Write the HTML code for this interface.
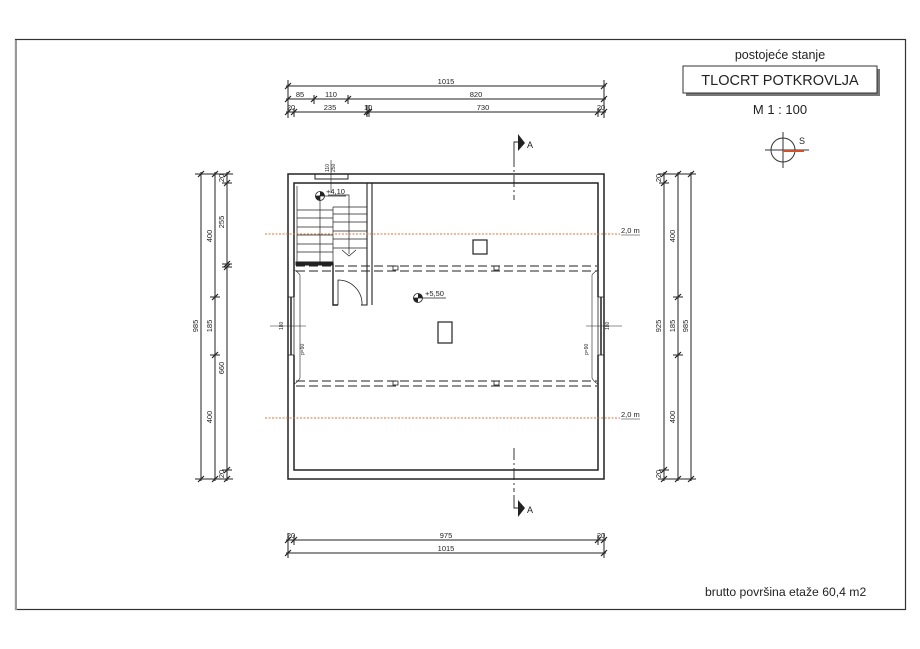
<!DOCTYPE html>
<html><head><meta charset="utf-8"><style>
html,body{margin:0;padding:0;background:#fff}
svg{display:block}
text{font-family:"Liberation Sans",sans-serif;fill:#222}
</style></head><body>
<svg width="920" height="649" viewBox="0 0 920 649" xmlns="http://www.w3.org/2000/svg">
<rect x="15.5" y="39.5" width="890" height="570" fill="none" stroke="#333" stroke-width="1.2"/>
<line x1="16" y1="40" x2="16" y2="610" stroke="#999" stroke-width="2"/>

<!-- title -->
<text x="780" y="59" font-size="12.5" text-anchor="middle">postojeće stanje</text>
<rect x="686" y="69" width="194" height="27" fill="#777"/>
<rect x="683" y="66" width="194" height="27" fill="#fff" stroke="#333" stroke-width="1"/>
<text x="780" y="85" font-size="14.5" text-anchor="middle">TLOCRT POTKROVLJA</text>
<text x="780" y="114" font-size="13" text-anchor="middle">M  1 : 100</text>
<circle cx="783" cy="150" r="12" fill="none" stroke="#333"/>
<line x1="765" y1="150" x2="809" y2="150" stroke="#333"/>
<line x1="783" y1="132" x2="783" y2="168" stroke="#333"/>
<line x1="783" y1="151" x2="804" y2="151" stroke="#d2512a" stroke-width="2"/>
<text x="799" y="144" font-size="9">S</text>

<g stroke="#222" stroke-width="1" fill="none">
<!-- top dims -->
<line x1="286" y1="86" x2="606" y2="86"/>
<line x1="286" y1="99" x2="606" y2="99"/>
<line x1="286" y1="112" x2="606" y2="112"/>
<line x1="288" y1="80" x2="288" y2="118"/><line x1="604" y1="80" x2="604" y2="118"/>
<line x1="314" y1="95" x2="314" y2="104"/><line x1="348" y1="95" x2="348" y2="104"/>
<line x1="294" y1="108" x2="294" y2="117"/><line x1="367" y1="105" x2="367" y2="117"/><line x1="369" y1="105" x2="369" y2="117"/><line x1="598" y1="108" x2="598" y2="117"/>
<!-- bottom dims -->
<line x1="286" y1="540" x2="606" y2="540"/>
<line x1="286" y1="553" x2="606" y2="553"/>
<line x1="288" y1="533" x2="288" y2="558"/><line x1="604" y1="533" x2="604" y2="558"/>
<line x1="294" y1="535" x2="294" y2="545"/><line x1="598" y1="535" x2="598" y2="545"/>
<!-- left dims -->
<line x1="201" y1="172" x2="201" y2="481"/>
<line x1="215" y1="172" x2="215" y2="481"/>
<line x1="227" y1="172" x2="227" y2="481"/>
<line x1="195" y1="174" x2="233" y2="174"/><line x1="195" y1="479" x2="233" y2="479"/>
<line x1="210" y1="297" x2="220" y2="297"/><line x1="210" y1="355" x2="220" y2="355"/>
<line x1="222" y1="183" x2="232" y2="183"/><line x1="222" y1="264" x2="232" y2="264"/><line x1="222" y1="267" x2="232" y2="267"/><line x1="222" y1="470" x2="232" y2="470"/>
<!-- right dims -->
<line x1="664" y1="172" x2="664" y2="481"/>
<line x1="678" y1="172" x2="678" y2="481"/>
<line x1="691" y1="172" x2="691" y2="481"/>
<line x1="658" y1="174" x2="696" y2="174"/><line x1="658" y1="479" x2="696" y2="479"/>
<line x1="659" y1="183" x2="669" y2="183"/><line x1="659" y1="470" x2="669" y2="470"/>
<line x1="673" y1="297" x2="683" y2="297"/><line x1="673" y1="355" x2="683" y2="355"/>
</g>
<!-- tick slashes -->
<g stroke="#222" stroke-width="1.2">
<path d="M285 89 L291 83 M601 89 L607 83 M311 102 L317 96 M345 102 L351 96 M285 102 L291 96 M601 102 L607 96 M285 115 L291 109 M291 115 L297 109 M364 115 L370 109 M366 115 L372 109 M595 115 L601 109 M601 115 L607 109"/>
<path d="M285 543 L291 537 M291 543 L297 537 M595 543 L601 537 M601 543 L607 537 M285 556 L291 550 M601 556 L607 550"/>
<path d="M198 177 L204 171 M212 177 L218 171 M224 177 L230 171 M198 482 L204 476 M212 482 L218 476 M224 482 L230 476 M212 300 L218 294 M212 358 L218 352 M224 186 L230 180 M224 267 L230 261 M224 270 L230 264 M224 473 L230 467"/>
<path d="M661 177 L667 171 M675 177 L681 171 M688 177 L694 171 M661 482 L667 476 M675 482 L681 476 M688 482 L694 476 M661 186 L667 180 M661 473 L667 467 M675 300 L681 294 M675 358 L681 352"/>
</g>
<g font-size="7.5" text-anchor="middle">
<text x="446" y="84">1015</text>
<text x="300" y="97">85</text><text x="331" y="97">110</text><text x="476" y="97">820</text>
<text x="291" y="110">20</text><text x="330" y="110">235</text><text x="368" y="110">10</text><text x="483" y="110">730</text><text x="601" y="110">20</text>
<text x="446" y="538">975</text><text x="446" y="551">1015</text>
<text x="291" y="538">20</text><text x="601" y="538">20</text>
<text transform="translate(198,326) rotate(-90)">985</text>
<text transform="translate(212,236) rotate(-90)">400</text>
<text transform="translate(212,326) rotate(-90)">185</text>
<text transform="translate(212,417) rotate(-90)">400</text>
<text transform="translate(224,222) rotate(-90)">255</text>
<text transform="translate(224,368) rotate(-90)">660</text>
<text transform="translate(224,178) rotate(-90)">20</text>
<text transform="translate(224,474) rotate(-90)">20</text>
<text transform="translate(661,326) rotate(-90)">925</text>
<text transform="translate(675,236) rotate(-90)">400</text>
<text transform="translate(675,326) rotate(-90)">185</text>
<text transform="translate(675,417) rotate(-90)">400</text>
<text transform="translate(688,326) rotate(-90)">985</text>
<text transform="translate(661,178) rotate(-90)">20</text>
<text transform="translate(661,474) rotate(-90)">20</text>
</g>

<!-- building -->
<g stroke="#222" fill="none">
<rect x="288" y="174" width="316" height="305" stroke-width="1.5"/>
<path d="M294 297 V183 H598 V297 M294 355 V470 H598 V355" stroke-width="1.5"/>
<rect x="288" y="297" width="6" height="58" stroke-width="0.8"/>
<line x1="291" y1="297" x2="291" y2="355" stroke-width="1.5"/>
<rect x="598" y="297" width="6" height="58" stroke-width="0.8"/>
<line x1="601" y1="297" x2="601" y2="355" stroke-width="1.5"/>
<line x1="270" y1="326" x2="306" y2="326" stroke-width="0.6"/>
<line x1="586" y1="326" x2="622" y2="326" stroke-width="0.6"/>
<rect x="315" y="174" width="33" height="5" stroke-width="1"/>
<line x1="331" y1="160" x2="331" y2="192" stroke-width="0.6"/>
<path d="M367 183 V264 M372 183 V305 M361 305 H367 V264" stroke-width="1.1"/>
<path d="M296 264 H333 V305 H338 M333 268 V300" stroke-width="1.4"/>
<rect x="296" y="262" width="37" height="3" fill="#222"/>
<g stroke-width="0.7">
<line x1="297" y1="186" x2="297" y2="262"/>
<line x1="320" y1="195" x2="320" y2="262"/>
<line x1="333" y1="207" x2="367" y2="207"/>
<line x1="333" y1="207" x2="333" y2="262"/>
<line x1="297" y1="210" x2="333" y2="210"/><line x1="297" y1="218" x2="333" y2="218"/><line x1="297" y1="227" x2="333" y2="227"/><line x1="297" y1="235" x2="333" y2="235"/><line x1="297" y1="244" x2="333" y2="244"/><line x1="297" y1="252" x2="333" y2="252"/>
<line x1="333" y1="214" x2="367" y2="214"/><line x1="333" y1="222" x2="367" y2="222"/><line x1="333" y1="231" x2="367" y2="231"/><line x1="333" y1="239" x2="367" y2="239"/><line x1="333" y1="248" x2="367" y2="248"/>
<path d="M328 195 H349 V254"/>
<path d="M342 250 L349 256 L356 250"/>
</g>
<path d="M338 305 V280 A24 24 0 0 1 362 305" stroke-width="0.8"/>
<g stroke-width="1" stroke-dasharray="9,4">
<line x1="296" y1="266" x2="597" y2="266"/><line x1="296" y1="271" x2="597" y2="271"/>
<line x1="296" y1="381" x2="597" y2="381"/><line x1="296" y1="386" x2="597" y2="386"/>
</g>
<path d="M294 270 Q298 272 300 275 V378 Q298 382 294 384" stroke-width="0.6"/>
<path d="M598 270 Q594 272 592 275 V378 Q594 382 598 384" stroke-width="0.6"/>
<g stroke-width="0.8">
<rect x="393" y="266" width="5" height="4"/><rect x="494" y="266" width="5" height="4"/>
<rect x="393" y="381" width="5" height="4"/><rect x="494" y="381" width="5" height="4"/>
</g>
<rect x="473" y="240" width="14" height="14" stroke-width="1.2"/>
<rect x="438" y="322" width="14" height="21" stroke-width="1.2"/>
<line x1="514" y1="155" x2="514" y2="200" stroke-width="0.9" stroke-dasharray="12,3,2,3"/>
<line x1="514" y1="448" x2="514" y2="492" stroke-width="0.9" stroke-dasharray="12,3,2,3"/>
<path d="M514 155 V142 H518" stroke-width="0.9"/>
<path d="M514 495 V508 H518" stroke-width="0.9"/>
</g>
<path d="M518 134 L525 143 L518 151 Z" fill="#222"/>
<path d="M518 500 L525 508 L518 517 Z" fill="#222"/>
<text x="527" y="148" font-size="9">A</text>
<text x="527" y="513" font-size="9">A</text>

<g stroke="#d9703f" stroke-width="0.9" stroke-dasharray="2,1.5">
<line x1="265" y1="234" x2="620" y2="234"/>
<line x1="265" y1="418" x2="620" y2="418"/>
</g>
<g font-size="7.5">
<text x="621" y="233">2,0 m</text><text x="621" y="417">2,0 m</text>
</g>
<line x1="621" y1="235" x2="640" y2="235" stroke="#222" stroke-width="0.5"/>
<line x1="621" y1="419" x2="640" y2="419" stroke="#222" stroke-width="0.5"/>

<g stroke="#222" stroke-width="0.8" fill="none">
<circle cx="320" cy="196" r="4.5"/><line x1="315" y1="196" x2="346" y2="196"/>
<circle cx="418" cy="298" r="4.5"/><line x1="413" y1="298" x2="446" y2="298"/>
</g>
<path d="M320 191.5 A4.5 4.5 0 0 1 324.5 196 H320 Z M320 200.5 A4.5 4.5 0 0 1 315.5 196 H320 Z" fill="#222"/>
<path d="M418 293.5 A4.5 4.5 0 0 1 422.5 298 H418 Z M418 302.5 A4.5 4.5 0 0 1 413.5 298 H418 Z" fill="#222"/>
<text x="326" y="194" font-size="7.5">+4,10</text>
<text x="425" y="296" font-size="7.5">+5,50</text>
<g font-size="5">
<text transform="translate(329,172) rotate(-90)">110</text>
<text transform="translate(335,172) rotate(-90)">250</text>
<text transform="translate(283,330) rotate(-90)">180</text>
<text transform="translate(609,330) rotate(-90)">180</text>
<text transform="translate(304,355) rotate(-90)">p=90</text>
<text transform="translate(588,355) rotate(-90)">p=90</text>
</g>

<text x="705" y="596" font-size="12.2">brutto površina etaže 60,4 m2</text>
</svg>
</body></html>
